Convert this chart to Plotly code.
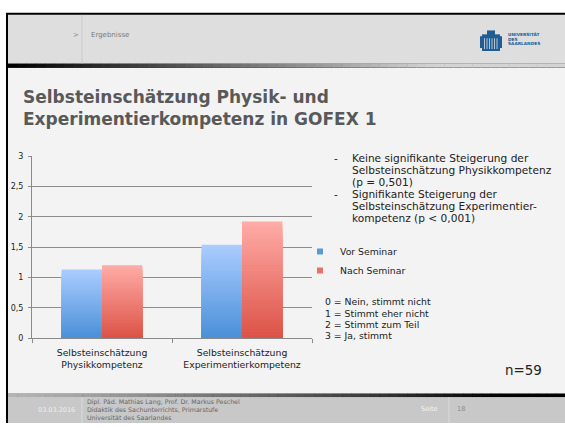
import plotly.graph_objects as go

W, H = 565, 428

# ---------------- data ----------------
categories = ["Selbsteinschätzung<br>Physikkompetenz",
              "Selbsteinschätzung<br>Experimentierkompetenz"]
series_names = ["Vor Seminar", "Nach Seminar"]
vor_seminar = [1.13, 1.54]
nach_seminar = [1.20, 1.92]
y_tickvals = [0, 0.5, 1, 1.5, 2, 2.5, 3]

bullet_lines = [
    ["Keine signifikante Steigerung der",
     "Selbsteinschätzung Physikkompetenz",
     "(p = 0,501)"],
    ["Signifikante Steigerung der",
     "Selbsteinschätzung Experimentier-",
     "kompetenz (p < 0,001)"],
]
scale_lines = ["0 = Nein, stimmt nicht", "1 = Stimmt eher nicht",
               "2 = Stimmt zum Teil", "3 = Ja, stimmt"]
sample_text = "n=59"
title_text = "Selbsteinschätzung Physik- und<br>Experimentierkompetenz in GOFEX 1"
footer_lines = ["Dipl. Päd. Mathias Lang, Prof. Dr. Markus Peschel",
                "Didaktik des Sachunterrichts, Primarstufe",
                "Universität des Saarlandes"]
footer_date = "03.03.2016"
page_label = "Seite"
page_number = "18"
breadcrumb = "Ergebnisse"
logo_lines = ["UNIVERSITÄT", "DES", "SAARLANDES"]

FONT = "DejaVu Sans"


def px(x):
    return x / W


def py(y):
    return 1 - y / H


def hex2rgb(h):
    h = h.lstrip("#")
    return tuple(int(h[i:i + 2], 16) for i in (0, 2, 4))


def lerp(c1, c2, t):
    a, b = hex2rgb(c1), hex2rgb(c2)
    return "rgb(%d,%d,%d)" % tuple(round(a[i] + (b[i] - a[i]) * t) for i in range(3))


fig = go.Figure()

# ---------------- gradient bars ----------------
N = 40
series = [
    (series_names[0], vor_seminar, "#4a8fd8", "#abcdff", "#5b9bd5"),
    (series_names[1], nach_seminar, "#dc5246", "#ffaca7", "#e8716a"),
]
for name, vals, bottom, top, swatch in series:
    for k in range(N, 0, -1):
        f = k / N
        fig.add_trace(go.Bar(
            x=categories, y=[v * f for v in vals],
            offsetgroup=name, legendgroup=name,
            marker=dict(color=lerp(bottom, top, (k - 0.5) / N), line=dict(width=0)),
            showlegend=False, hoverinfo="skip", name=name))
for name, vals, bottom, top, swatch in series:
    fig.add_trace(go.Scatter(
        x=[categories[0]], y=[None], mode="markers", name=name, legendgroup=name,
        marker=dict(symbol="square", size=6, color=swatch), hoverinfo="skip"))

shapes = []


def rect(x0, y0, x1, y1, color, layer="below"):
    shapes.append(dict(type="rect", xref="paper", yref="paper",
                       x0=px(x0), x1=px(x1), y0=py(y1), y1=py(y0),
                       fillcolor=color, line=dict(width=0), layer=layer))


def vline(x, y0, y1, color, width=1, layer="below"):
    shapes.append(dict(type="line", xref="paper", yref="paper",
                       x0=px(x), x1=px(x), y0=py(y0), y1=py(y1),
                       line=dict(color=color, width=width), layer=layer))


# slide backgrounds
rect(0, 0, W, H, "#ffffff")
rect(6, 9, W, H, "#000000")
rect(8, 11, W, 61, "#dedede")
rect(8, 65, W, 398, "#f3f3f3")
rect(8, 401.5, W, H, "#c8c8c8")
# header / footer gradient strips
G = 60
for i in range(G):
    x0 = 8 + (W - 8) * i / G
    x1 = 8 + (W - 8) * (i + 1) / G + 0.5
    t = i / (G - 1)
    rect(x0, 61, x1, 65, lerp("#000000", "#d4d4d4", min(1, t * 1.3)))
    rect(x0, 398, x1, 401.5, lerp("#b4b4b4", "#000000", min(1, t ** 1.2 * 1.15)))
# dividers
vline(82, 11, 61, "#cbcbcb")
vline(82, 401.5, H, "#dadada")
vline(449, 401.5, H, "#dadada")

# logo (approximate owl building emblem)
LOGO = "#1f5d94"
rect(482, 31, 500, 48, LOGO, layer="above")
for xi in [484.5, 487, 489.5, 492, 494.5, 497]:
    vline(xi, 35, 46, "#dedede", width=0.8, layer="above")
rect(487, 27, 495, 33, LOGO, layer="above")
rect(480, 33, 482, 45, LOGO, layer="above")
rect(500, 33, 502, 45, LOGO, layer="above")

annotations = []


def text(x, y, s, size, color="#333333", anchor="left", bold=False, yanchor="middle"):
    annotations.append(dict(
        x=px(x), y=py(y), xref="paper", yref="paper", text=s, showarrow=False,
        xanchor=anchor, yanchor=yanchor, align=anchor,
        font=dict(family=FONT, size=size, color=color,
                  weight="bold" if bold else "normal")))


# header texts
text(71, 32, "&gt;", 7, "#8a8a8a")
text(89, 32, breadcrumb, 7, "#7a7a7a")
for i, s in enumerate(logo_lines):
    text(506, 31.5 + i * 4.6, s, 4.3, LOGO, bold=True)

# bullet text
yy = 157.5
for bl in bullet_lines:
    text(332, yy, "-", 10.6, "#222222")
    for line in bl:
        text(350, yy, line, 10.6, "#222222")
        yy += 12.3
# scale explanation
for i, s in enumerate(scale_lines):
    text(323, 304.3 + i * 11.6, s, 9.3, "#222222")
text(503, 374, sample_text, 13.4, "#222222")

# footer
text(77, 415, footer_date, 6.5, "#eeeeee", anchor="right")
for i, s in enumerate(footer_lines):
    text(85, 407 + i * 7.6, s, 6.3, "#666666")
text(439, 414, page_label, 6.5, "#f6f6f6", anchor="right")
text(455, 414, page_number, 6.5, "#8a8a8a")

fig.update_layout(
    width=W, height=H,
    margin=dict(l=0, r=0, t=0, b=0),
    paper_bgcolor="#ffffff", plot_bgcolor="rgba(0,0,0,0)",
    separators=",.",
    barmode="group", bargap=0.424, bargroupgap=0,
    font=dict(family=FONT, color="#333333"),
    title=dict(text=title_text, x=px(23), xref="paper", xanchor="left",
               y=py(101), yref="paper", yanchor="middle",
               font=dict(family=FONT, size=17, color="#595959", weight="bold")),
    xaxis=dict(domain=[px(32), px(312)], showline=True, linecolor="#8a8a8a",
               ticks="outside", tickson="boundaries", ticklen=4, tickcolor="#8a8a8a",
               ticklabelstandoff=6,
               tickfont=dict(size=9.3, color="#222222"), showgrid=False, fixedrange=True),
    yaxis=dict(domain=[1 - 341.3 / H, 1 - 155.3 / H], range=[0, 3],
               tickvals=y_tickvals, showline=True, linecolor="#8a8a8a",
               ticks="outside", ticklen=3, tickcolor="#8a8a8a",
               ticklabelstandoff=3,
               gridcolor="#8c8c8c", gridwidth=1, zeroline=False,
               tickfont=dict(size=8, color="#222222"), fixedrange=True),
    legend=dict(x=px(300), y=py(238), xanchor="left", yanchor="top",
                font=dict(family=FONT, size=9.3, color="#222222"),
                bgcolor="rgba(0,0,0,0)", tracegroupgap=0, itemclick=False),
    shapes=shapes,
    annotations=annotations,
    showlegend=True,
)

fig.write_html("out.html", post_script="document.body.style.margin='0';",
               config={"displayModeBar": False})
